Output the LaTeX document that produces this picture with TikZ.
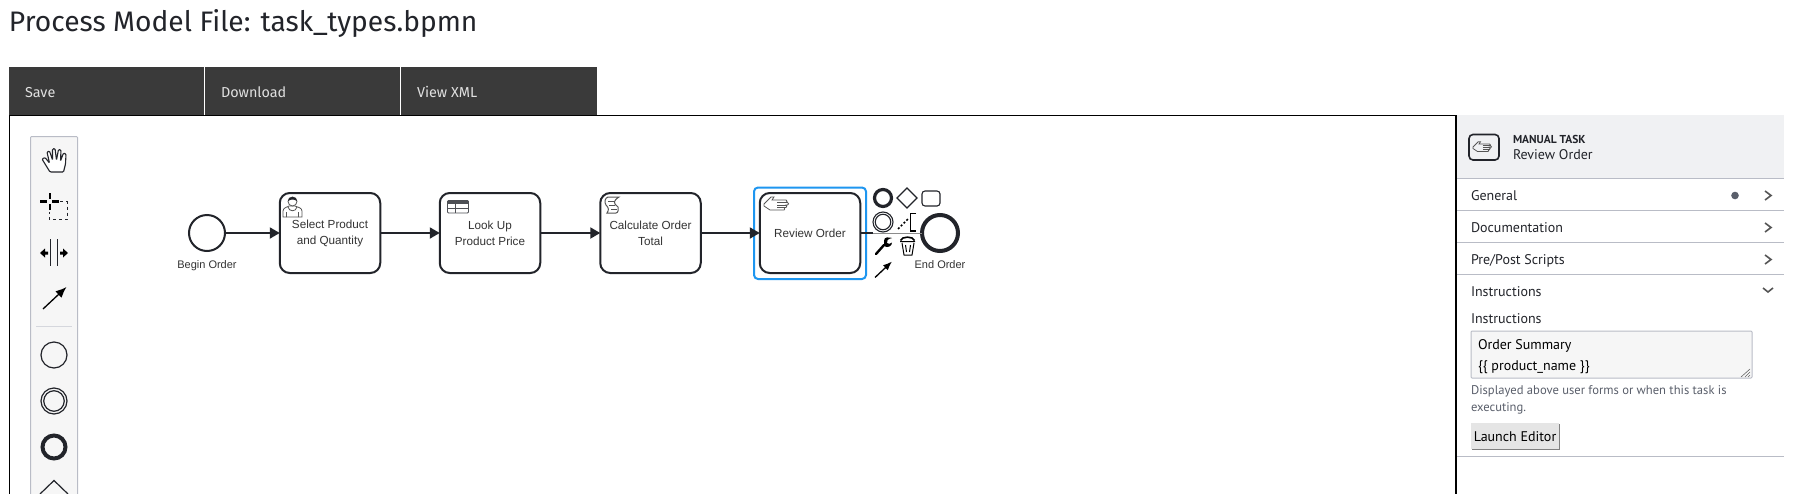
\documentclass[tikz,border=0pt]{standalone}
\usepackage{fontspec}
\usetikzlibrary{arrows.meta,shapes.geometric}
\setmainfont{Liberation Sans}
\newfontfamily\plex{Fira Sans}
\newfontfamily\panelf{PT Sans}
\definecolor{ink}{HTML}{22242A}
\definecolor{txt}{HTML}{333333}
\definecolor{bar}{HTML}{3A3A3A}
\definecolor{sel}{HTML}{1E96F0}
\definecolor{rule}{HTML}{B9BCC6}
\definecolor{palbg}{HTML}{F6F6F6}
\definecolor{headbg}{HTML}{F0F1F3}
\definecolor{helpc}{HTML}{5A5F6B}
\definecolor{iconc}{HTML}{555555}
\tikzset{
 every node/.style={inner sep=0pt,outer sep=0pt},
 taskbox/.style={draw=ink,line width=2pt,rounded corners=10pt,fill=white,minimum width=100.5pt,minimum height=80pt,align=center,text=txt,font=\fontsize{11.7}{16}\selectfont},
 startev/.style={circle,draw=ink,line width=2pt,fill=white,minimum size=36pt},
 endev/.style={circle,draw=ink,line width=4pt,fill=white,minimum size=36pt},
 flow/.style={draw=ink,line width=2pt,-{Triangle[length=10pt,width=11pt]}},
 evlabel/.style={text=txt,font=\fontsize{11}{14}\selectfont,anchor=base},
 bartext/.style={text=white!88!black,anchor=base west,font=\plex\fontsize{14.4}{16}\selectfont},
 ptext/.style={text=ink,anchor=base west,font=\panelf\fontsize{14}{16}\selectfont},
 prule/.style={draw=rule,line width=1pt},
 chev/.style={draw=iconc,line width=1.6pt},
 icon/.style={draw=iconc,line width=.8pt},
}
\begin{document}
\begin{tikzpicture}[x=1pt,y=-1pt]
\useasboundingbox (0,0) rectangle (1813,493);
\clip (0,0) rectangle (1813,493);
\fill[white] (0,0) rectangle (1813,493);
% title
\node[anchor=base west,text=ink,font=\plex\fontsize{28.2}{32}\selectfont] (title) at (9,31) {Process Model File: task\_types.bpmn};
% top bar
\fill[bar] (9,67) rectangle (597,115);
\draw[white,line width=.8pt] (204.5,67) -- (204.5,115) (400.5,67) -- (400.5,115);
\node[bartext] (save) at (25,97) {Save};
\node[bartext] (download) at (221,97) {Download};
\node[bartext] (viewxml) at (417,97) {View XML};
% canvas
\draw[black,line width=1.2pt] (9.5,500) -- (9.5,115.5) -- (1456,115.5) -- (1456,500);
% palette
\draw[draw=rule,fill=palbg,line width=1pt,rounded corners=1pt] (30.5,136.5) rectangle (77.5,500);
\draw[ink,line width=1.1pt,rounded corners=1pt,fill=white] (50,172) -- (42,159) -- (45,157.5) -- (49.5,163) -- (47,152) -- (49.5,151) -- (52.5,160) -- (52.5,149) -- (55,148.5) -- (56.5,160) -- (58.5,149.5) -- (61,150) -- (60.5,161) -- (63.5,153) -- (66,154) -- (65.5,164) -- (63.5,172) -- cycle;
\draw[black,line width=2.6pt] (50,193) -- (50,199) (50,204) -- (50,210) (40,201.5) -- (47,201.5) (52,201.5) -- (59,201.5);
\draw[ink,line width=1pt,dash pattern=on 3pt off 3pt] (60,201.5) -- (67,201.5) -- (67,219) -- (49,219) -- (49,212);
\draw[ink,line width=1.1pt] (50.5,239) -- (50.5,266) (57.5,239) -- (57.5,266);
\fill[black] (40,253) -- (45,248.5) -- (45,251.5) -- (48,251.5) -- (48,254.5) -- (45,254.5) -- (45,257.5) -- cycle;
\fill[black] (68,253) -- (63,248.5) -- (63,251.5) -- (60,251.5) -- (60,254.5) -- (63,254.5) -- (63,257.5) -- cycle;
\draw[black,line width=1.3pt,-{Latex[length=11pt,width=9pt]}] (43,309) -- (66.5,287);
\draw[rule!60,line width=.8pt] (36,326.5) -- (72,326.5);
\node[circle,draw=ink,line width=1.2pt,minimum size=26pt] (p1) at (54,355) {};
\node[circle,draw=ink,line width=1.2pt,minimum size=26pt] (p2) at (54,401) {};
\node[circle,draw=ink,line width=1.2pt,minimum size=20.5pt] (p2i) at (54,401) {};
\node[circle,draw=ink,line width=4pt,minimum size=23pt] (p3) at (54,447) {};
\draw[ink,line width=1.2pt] (40,494) -- (54,480.5) -- (68,494);
% selection
\draw[sel,line width=2pt,rounded corners=4pt] (754,187.5) rectangle (866,279);
% process
\node[startev] (begin) at (207,233) {};
\node[evlabel] (beginl) at (207,268) {Begin Order};
\node[taskbox] (t1) at (330,233) {Select Product\\and Quantity};
\node[taskbox] (t2) at (490,233) {Look Up\\Product Price};
\node[taskbox] (t3) at (650.5,233) {Calculate Order\\Total};
\node[taskbox] (t4) at (810,233) {Review Order};
\node[endev] (end) at (940,233) {};
\node[evlabel] (endl) at (940,268) {End Order};
\coordinate (fade) at (873,233);
\draw[flow] (begin) -- (t1);
\draw[flow] (t1) -- (t2);
\draw[flow] (t2) -- (t3);
\draw[flow] (t3) -- (t4);
\draw[ink,line width=2pt] (t4) -- (fade);
\draw[black!45,line width=1pt] (fade) -- (end);
% task icons
\draw[icon,fill=white] (283,217) -- (283,211) .. controls (283,208) and (287,207) .. (289,206) -- (295,206) .. controls (298,207) and (302,208) .. (302,211) -- (302,217) -- cycle;
\draw[icon] (286.5,217) -- (286.5,212) (298.5,217) -- (298.5,212) (288,207) .. controls (289,212) and (296,212) .. (297,207);
\draw[icon,fill=white] (292.5,201.5) circle (4.5pt);
\fill[ink] (288,201) .. controls (288,195.5) and (297,195.5) .. (297,201) .. controls (294,199) and (291,199) .. (288,201) -- cycle;
\draw[ink!80,line width=.9pt,rounded corners=1pt,fill=white] (447.5,200.5) rectangle (468.5,213);
\fill[ink!80] (447.5,200.5) rectangle (468.5,204);
\draw[ink!80,line width=.8pt] (447.5,208.5) -- (468.5,208.5) (455,204) -- (455,213);
\draw[iconc,line width=1pt,fill=white] (608,197) -- (619,197) .. controls (613,201) and (613,203) .. (618,207) .. controls (619,209) and (618,213) .. (616,213) -- (607,213) .. controls (609,210) and (609,208) .. (606,205) .. controls (604,202) and (605,198) .. (608,197) -- cycle;
\draw[iconc,line width=.8pt] (608,201) -- (615,201) (609,205) -- (615,205) (611,209) -- (617,209);
\begin{scope}[shift={(764,196)}]
\draw[icon,fill=white] (0,8) -- (7,1) -- (10,1) -- (8,4) -- (22,4) .. controls (23.5,4) and (23.5,6.5) .. (22,6.5) -- (23.5,6.5) .. controls (25,6.5) and (25,9) .. (23.5,9) -- (22,9) .. controls (23,9) and (23,11.5) .. (22,11.5) -- (20,11.5) .. controls (21,12) and (21,14) .. (20,14) -- (6,14) -- (0,10) -- cycle;
\draw[icon] (13,6.5) -- (22,6.5) (13,9) -- (22,9) (13,11.5) -- (20,11.5);
\end{scope}
% context pad
\node[circle,draw=ink,line width=3.2pt,minimum size=17pt] (c1) at (883,198) {};
\node[diamond,draw=ink,line width=1.1pt,minimum size=20pt] (c2) at (907,198) {};
\node[draw=ink,line width=1.1pt,rounded corners=3pt,minimum width=18pt,minimum height=15pt] (c3) at (931,198.5) {};
\node[circle,draw=ink,line width=1.1pt,minimum size=20pt] (c4) at (883,222) {};
\node[circle,draw=ink,line width=1.1pt,minimum size=15.5pt] (c4i) at (883,222) {};
\draw[black,line width=1.5pt,dash pattern=on 2pt off 2pt] (898,229) -- (909,218);
\draw[black,line width=1.5pt] (916,213.5) -- (910.5,213.5) -- (910.5,231) -- (916,231);
\draw[black,line width=2.4pt,line cap=round] (876,254) -- (884,245);
\fill[black] (884,241) .. controls (884,236) and (889,237.5) .. (892,238) .. controls (888,239) and (886,240.5) .. (887,243) .. controls (888,244.5) and (891,244) .. (892,242.5) .. controls (892,246) and (888,248) .. (885,246.5) .. controls (884,245) and (884,243) .. (884,241) -- cycle;
\draw[black,line width=1pt] (902,243) -- (904,255) -- (912,255) -- (914,243) (900,241.5) -- (915,241.5);
\draw[black,line width=1.6pt] (900.5,240.5) .. controls (902,236) and (913,236) .. (914.5,240.5);
\draw[black,line width=1pt] (905.5,245) -- (906.5,252) (910.5,245) -- (909.5,252);
\draw[black,line width=1.3pt,-{Latex[length=9pt,width=7pt]}] (875,277.5) -- (892,261.5);
% properties panel
\fill[headbg] (1457,115) rectangle (1784,178);
\draw[ink,line width=1.6pt,rounded corners=4pt] (1469,134.5) rectangle (1499,160);
\begin{scope}[shift={(1473,141)},scale=.75]
\draw[icon] (0,8) -- (7,1) -- (10,1) -- (8,4) -- (22,4) .. controls (23.5,4) and (23.5,6.5) .. (22,6.5) -- (23.5,6.5) .. controls (25,6.5) and (25,9) .. (23.5,9) -- (22,9) .. controls (23,9) and (23,11.5) .. (22,11.5) -- (20,11.5) .. controls (21,12) and (21,14) .. (20,14) -- (6,14) -- (0,10) -- cycle;
\draw[icon] (13,6.5) -- (22,6.5) (13,9) -- (22,9) (13,11.5) -- (20,11.5);
\end{scope}
\node[ptext,font=\panelf\bfseries\fontsize{11.5}{14}\selectfont] (ptype) at (1513,143) {MANUAL TASK};
\node[ptext] (pname) at (1513,159) {Review Order};
\draw[prule] (1457,178.5) -- (1784,178.5) (1457,210.5) -- (1784,210.5) (1457,242.5) -- (1784,242.5) (1457,274.5) -- (1784,274.5) (1457,456) -- (1784,456);
\node[ptext] (gen) at (1471,200) {General};
\node[ptext] (doc) at (1471,232) {Documentation};
\node[ptext] (pre) at (1471,264) {Pre/Post Scripts};
\node[ptext] (ins) at (1471,296) {Instructions};
\fill[helpc] (1735,195.5) circle (3.8pt);
\draw[chev] (1765,191) -- (1771,195.5) -- (1765,200);
\draw[chev] (1765,223) -- (1771,227.5) -- (1765,232);
\draw[chev] (1765,255) -- (1771,259.5) -- (1765,264);
\draw[chev] (1763,288) -- (1768,292) -- (1773,288);
\node[ptext] (insl) at (1471,323) {Instructions};
\draw[draw=rule,fill=palbg,line width=1pt,rounded corners=1pt] (1471,331) rectangle (1752,378);
\node[ptext,text=black] (o1) at (1478,349) {Order Summary};
\node[ptext,text=black] (o2) at (1478,370) {\{\{ product\_name \}\}};
\draw[black!60,line width=.6pt] (1750,369) -- (1741,377) (1750,372) -- (1745,377) (1750,375) -- (1748,377);
\node[ptext,text=helpc,font=\panelf\fontsize{12.6}{16}\selectfont] (h1) at (1471,394) {Displayed above user forms or when this task is};
\node[ptext,text=helpc,font=\panelf\fontsize{12.6}{16}\selectfont] (h2) at (1471,411) {executing.};
\fill[black!50] (1472,424) rectangle (1560,450);
\fill[black!10] (1471,423) rectangle (1559,448.5);
\node[ptext,anchor=base,text=black] (btn) at (1515,441) {Launch Editor};
\end{tikzpicture}
\end{document}
